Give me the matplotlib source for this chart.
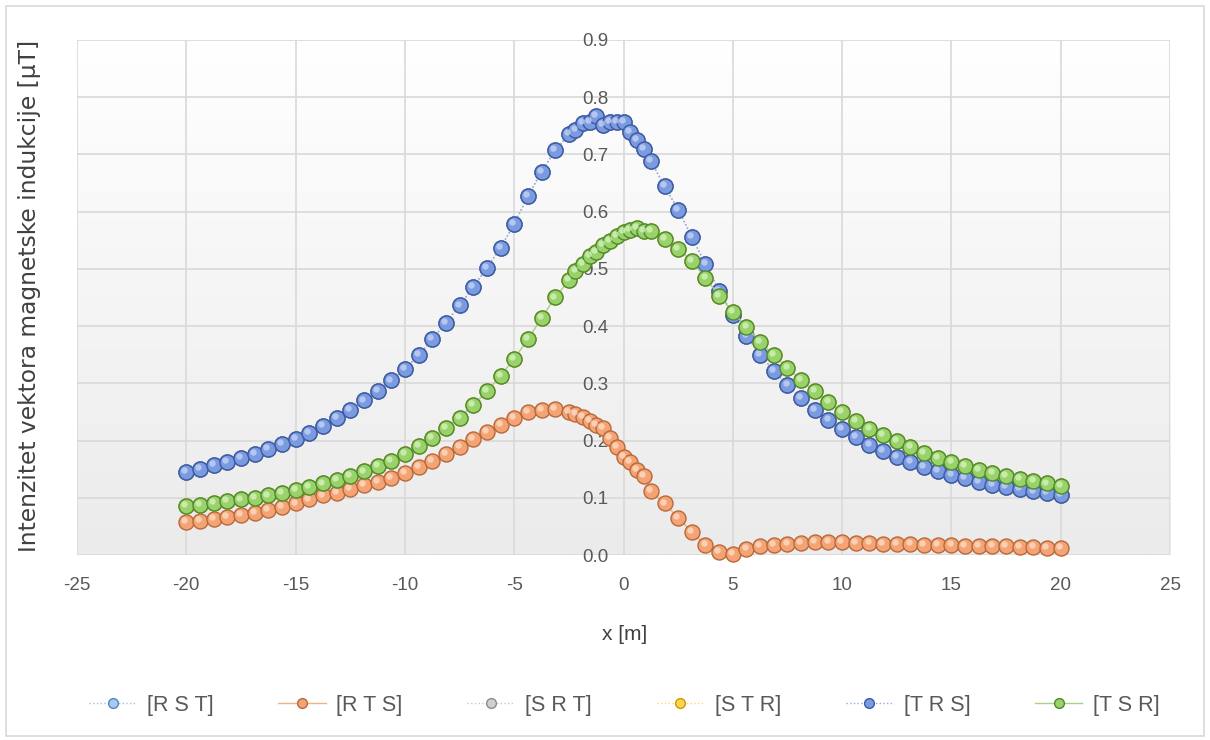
import numpy as np
import matplotlib
matplotlib.use("Agg")
import matplotlib.pyplot as plt
from matplotlib.transforms import offset_copy
from matplotlib.patches import Rectangle
from matplotlib.colors import LinearSegmentedColormap

# ============================================
# DATA (ocitano sa slike)
# ============================================
x_m = [-20, -19.375, -18.75, -18.125, -17.5, -16.875, -16.25, -15.625, -15,
       -14.375, -13.75, -13.125, -12.5, -11.875, -11.25, -10.625, -10,
       -9.375, -8.75, -8.125, -7.5, -6.875, -6.25, -5.625, -5, -4.375,
       -3.75, -3.125, -2.5, -2.2, -1.875, -1.55, -1.25, -0.95, -0.625, -0.3,
       0, 0.3, 0.625, 0.95, 1.25, 1.875, 2.5, 3.125, 3.75, 4.375, 5, 5.625,
       6.25, 6.875, 7.5, 8.125, 8.75, 9.375, 10, 10.625, 11.25, 11.875,
       12.5, 13.125, 13.75, 14.375, 15, 15.625, 16.25, 16.875, 17.5, 18.125,
       18.75, 19.375, 20]

b_TRS = [0.145, 0.151, 0.157, 0.163, 0.170, 0.177, 0.185, 0.194, 0.203,
         0.214, 0.226, 0.239, 0.254, 0.270, 0.287, 0.305, 0.325,
         0.349, 0.377, 0.406, 0.436, 0.468, 0.502, 0.537, 0.578, 0.627,
         0.670, 0.707, 0.735, 0.742, 0.755, 0.757, 0.767, 0.752, 0.757, 0.756,
         0.756, 0.740, 0.725, 0.710, 0.688, 0.645, 0.603, 0.556, 0.508, 0.462, 0.420, 0.383,
         0.350, 0.322, 0.297, 0.274, 0.254, 0.236, 0.220, 0.206, 0.193, 0.182,
         0.172, 0.163, 0.154, 0.147, 0.140, 0.134, 0.128, 0.123, 0.119, 0.115,
         0.111, 0.108, 0.105]

b_TSR = [0.086, 0.088, 0.091, 0.094, 0.097, 0.100, 0.104, 0.108, 0.113,
         0.119, 0.125, 0.131, 0.138, 0.146, 0.155, 0.165, 0.176,
         0.190, 0.205, 0.222, 0.240, 0.262, 0.286, 0.313, 0.343, 0.377,
         0.414, 0.450, 0.480, 0.497, 0.508, 0.522, 0.530, 0.542, 0.548, 0.558,
         0.565, 0.568, 0.572, 0.566, 0.566, 0.553, 0.535, 0.514, 0.484, 0.453, 0.425, 0.398,
         0.373, 0.349, 0.327, 0.306, 0.286, 0.268, 0.250, 0.235, 0.221, 0.209,
         0.200, 0.189, 0.179, 0.170, 0.162, 0.155, 0.149, 0.143, 0.138, 0.133,
         0.129, 0.125, 0.121]

b_RTS = [0.057, 0.060, 0.063, 0.066, 0.070, 0.074, 0.079, 0.084, 0.090,
         0.097, 0.104, 0.109, 0.116, 0.122, 0.128, 0.135, 0.144,
         0.154, 0.165, 0.176, 0.189, 0.203, 0.215, 0.228, 0.240, 0.250,
         0.253, 0.255, 0.250, 0.246, 0.241, 0.235, 0.228, 0.222, 0.205, 0.188,
         0.172, 0.163, 0.148, 0.138, 0.112, 0.090, 0.065, 0.040, 0.018, 0.006, 0.002, 0.010,
         0.015, 0.018, 0.020, 0.021, 0.022, 0.022, 0.022, 0.021, 0.021, 0.020,
         0.020, 0.019, 0.018, 0.018, 0.017, 0.016, 0.016, 0.015, 0.015, 0.014,
         0.014, 0.013, 0.013]

# skrivene serije se poklapaju sa vidljivima
b_RST = b_TRS
b_SRT = b_TRS
b_STR = b_TSR

labels = ['[R S T]', '[R T S]', '[S R T]', '[S T R]', '[T R S]', '[T S R]']
series = [b_RST, b_RTS, b_SRT, b_STR, b_TRS, b_TSR]
linestyles = [':', '-', ':', ':', ':', '-']
line_cols = ['#9dc3e6', '#f4b183', '#c9c9c9', '#ffd966', '#8faadc', '#a9d18e']
face_cols = ['#a9c9ef', '#f4a474', '#d0d0d0', '#ffd54f', '#7b9be0', '#98d268']
edge_cols = ['#4f86c0', '#b8683a', '#8c8c8c', '#c79a00', '#3c5aa6', '#4e8a30']
hi_cols = ['#e2eefb', '#fde0cc', '#f2f2f2', '#fff2c0', '#c9d7f6', '#d9f3c4']

txt = '#595959'
plt.rcParams['font.family'] = ['Liberation Sans', 'DejaVu Sans']
plt.rcParams['axes.unicode_minus'] = False

fig = plt.figure(figsize=(12.1, 7.4), dpi=100)
fig.add_artist(Rectangle((0.005, 0.006), 0.99, 0.986, transform=fig.transFigure,
                         fill=False, ec='#d9d9d9', lw=1.2))
ax = fig.add_axes([0.0636, 0.25, 0.9034, 0.696])

# pozadina sa gradijentom (bijelo gore, svijetlo sivo dolje)
grad = np.linspace(0, 1, 256).reshape(-1, 1)
ax.imshow(grad, extent=[0, 1, 0, 1], transform=ax.transAxes, aspect='auto',
          cmap=LinearSegmentedColormap.from_list('g', ['#ffffff', '#ebebeb']),
          origin='upper', zorder=0)

handles = []
for i, (lab, y) in enumerate(zip(labels, series)):
    h, = ax.plot(x_m, y, linestyle=linestyles[i], color=line_cols[i], lw=1.0,
                 marker='o', ms=10.8, mfc=face_cols[i], mec=edge_cols[i], mew=1.0,
                 zorder=3 + i * 2, clip_on=False, label=lab)
    tr = offset_copy(ax.transData, fig=fig, x=-1.3, y=1.4, units='points')
    ax.plot(x_m, y, linestyle='none', marker='o', ms=4.6, mfc=hi_cols[i], mec='none',
            alpha=0.75, transform=tr, zorder=4 + i * 2, clip_on=False)
    handles.append(h)

ax.set_xlim(-25, 25)
ax.set_ylim(0, 0.9)
ax.set_xticks(np.arange(-25, 26, 5))
ax.set_yticks(np.arange(0, 0.91, 0.1))
ax.set_yticklabels([f'{v:.1f}' for v in np.arange(0, 0.91, 0.1)])
ax.grid(True, color='#d9d9d9', lw=1.2, zorder=1)
ax.set_axisbelow(True)
for s in ax.spines.values():
    s.set_visible(False)
ax.spines['left'].set_position(('data', 0))
ax.tick_params(axis='both', length=0, colors=txt, labelsize=13.5)
ax.tick_params(axis='x', pad=16)
ax.tick_params(axis='y', pad=11)

fig.text(0.024, 0.6, 'Intenzitet vektora magnetske indukcije [μT]', rotation=90,
         ha='center', va='center', fontsize=16.8, color='#404040', family='DejaVu Sans')
fig.text(0.516, 0.142, 'x [m]', ha='center', va='center', fontsize=15, color='#404040')

leg = fig.legend(handles=handles, loc='center', bbox_to_anchor=(0.516, 0.047), ncol=6,
                 frameon=False, fontsize=15.5, markerscale=0.65, handlelength=2.2,
                 columnspacing=3.0, handletextpad=0.5)
for t in leg.get_texts():
    t.set_color(txt)

fig.savefig('out.png', dpi=100)
